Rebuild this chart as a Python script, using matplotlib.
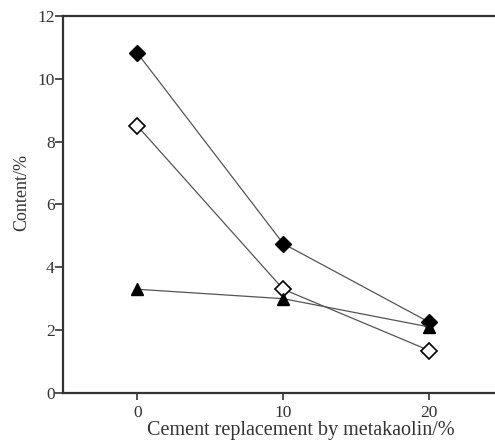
import matplotlib.pyplot as plt

plt.rcParams["font.family"] = ["Liberation Serif", "DejaVu Serif"]

replacement = [0, 10, 20]
filled_diamond = [10.82, 4.75, 2.25]
open_diamond = [8.5, 3.3, 1.35]
triangle = [3.3, 3.0, 2.1]

fig = plt.figure(figsize=(4.95, 4.43), dpi=100)
ax = fig.add_axes([0.127, 0.113, 0.873, 0.851])

line_kw = dict(color="#555555", linewidth=0.9)
ax.plot(replacement, filled_diamond, marker="D", markersize=8.5,
        markerfacecolor="black", markeredgecolor="black", **line_kw)
ax.plot(replacement, open_diamond, marker="D", markersize=8.5,
        markerfacecolor="white", markeredgecolor="black",
        markeredgewidth=1.2, **line_kw)
ax.plot(replacement, triangle, marker="^", markersize=8,
        markerfacecolor="black", markeredgecolor="black", **line_kw)

ax.set_xlim(-5.1, 24.5)
ax.set_ylim(0, 12)
ax.set_xticks([0, 10, 20])
ax.set_yticks([0, 2, 4, 6, 8, 10, 12])

ax.spines["right"].set_visible(False)
for s in ("left", "bottom", "top"):
    ax.spines[s].set_linewidth(1.6)
    ax.spines[s].set_color("#333333")

ax.tick_params(direction="out", length=5, width=1.2, labelsize=12.5,
               colors="#333333", labelcolor="#333333")
ax.tick_params(axis="y", pad=0, length=6)

ax.set_xlabel("Cement replacement by metakaolin/%", fontsize=14.5,
              color="#333333")
ax.set_ylabel("Content/%", fontsize=13, color="#333333")
ax.xaxis.set_label_coords(0.551, -0.075)
ax.yaxis.set_label_coords(-0.076, 0.532)

fig.savefig("out.png", dpi=100)
